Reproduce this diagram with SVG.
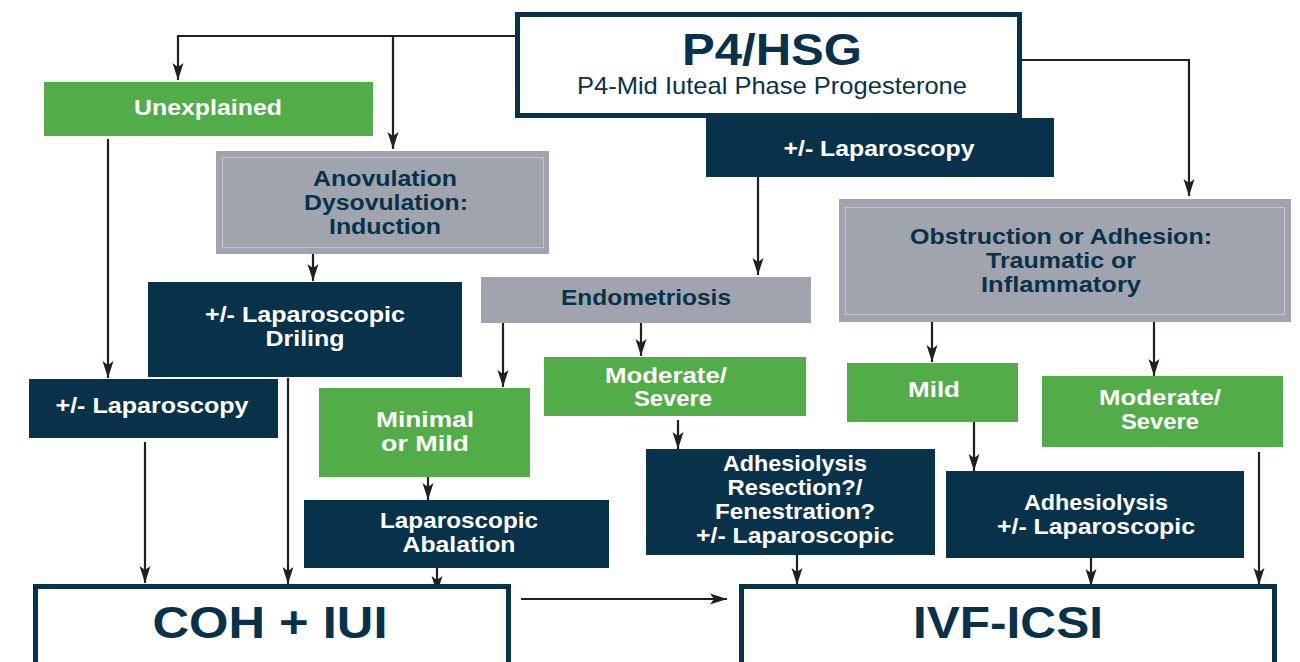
<svg xmlns="http://www.w3.org/2000/svg" width="1300" height="662" viewBox="0 0 1300 662">
<defs>
<style>
.bg{fill:#ffffff}
.navy{fill:#08324a}
.green{fill:#52ac47}
.gray{fill:#a0a4ae}
.inner{fill:none;stroke:#c3c6cd;stroke-width:1}
.frame{fill:#ffffff;stroke:#08324a;stroke-width:5}
text{font-family:"Liberation Sans",Arial,sans-serif;text-anchor:middle}
.tw{font-weight:bold;fill:#ffffff;font-size:22px}
.tn{font-weight:bold;fill:#08324a;font-size:22px}
.big{font-weight:bold;fill:#08324a;font-size:45px}
.sub{fill:#08324a;font-size:24px}
.con{fill:none;stroke:#231f20;stroke-width:2.2}
</style>
<marker id="ah" markerUnits="userSpaceOnUse" markerWidth="20" markerHeight="14" refX="17" refY="6" orient="auto" viewBox="0 0 20 12">
<path d="M0,0.5 L17,6 L0,11.5 L4,6 Z" fill="#231f20"/>
</marker>
</defs>
<rect class="bg" x="0" y="0" width="1300" height="662"/>

<g id="connectors">
<polyline class="con" points="515,36 178,36 178,80" marker-end="url(#ah)"/>
<polyline class="con" points="393,36 393,149" marker-end="url(#ah)"/>
<polyline class="con" points="1022,60 1189,60 1189,196" marker-end="url(#ah)"/>
<line class="con" x1="758" y1="177" x2="758" y2="275" marker-end="url(#ah)"/>
<line class="con" x1="108" y1="139" x2="108" y2="378" marker-end="url(#ah)"/>
<line class="con" x1="313" y1="250" x2="313" y2="281" marker-end="url(#ah)"/>
<line class="con" x1="288" y1="378" x2="288" y2="584" marker-end="url(#ah)"/>
<line class="con" x1="145" y1="442" x2="145" y2="583" marker-end="url(#ah)"/>
<line class="con" x1="503" y1="323" x2="503" y2="387" marker-end="url(#ah)"/>
<line class="con" x1="641" y1="323" x2="641" y2="356" marker-end="url(#ah)"/>
<line class="con" x1="428" y1="477" x2="428" y2="500" marker-end="url(#ah)"/>
<line class="con" x1="437" y1="568" x2="437" y2="593" marker-end="url(#ah)"/>
<line class="con" x1="678" y1="420" x2="678" y2="449" marker-end="url(#ah)"/>
<line class="con" x1="797" y1="555" x2="797" y2="585" marker-end="url(#ah)"/>
<line class="con" x1="932" y1="322" x2="932" y2="362" marker-end="url(#ah)"/>
<line class="con" x1="1154" y1="322" x2="1154" y2="376" marker-end="url(#ah)"/>
<line class="con" x1="974" y1="422" x2="974" y2="471" marker-end="url(#ah)"/>
<line class="con" x1="1091" y1="558" x2="1091" y2="586" marker-end="url(#ah)"/>
<line class="con" x1="1259" y1="452" x2="1259" y2="585" marker-end="url(#ah)"/>
<line class="con" x1="521" y1="599" x2="727" y2="599" marker-end="url(#ah)"/>
</g>

<g id="p4hsg">
<rect class="frame" x="517.5" y="14.5" width="502" height="101"/>
<text class="big" x="772" y="65" style="font-size:44px" textLength="180" lengthAdjust="spacingAndGlyphs">P4/HSG</text>
<text class="sub" x="772" y="94" textLength="390" lengthAdjust="spacingAndGlyphs">P4-Mid Iuteal Phase Progesterone</text>
</g>

<g id="laparoscopy-top">
<rect class="navy" x="706" y="118" width="348" height="59"/>
<text class="tw" x="879" y="156" textLength="191" lengthAdjust="spacingAndGlyphs">+/- Laparoscopy</text>
</g>

<g id="unexplained">
<rect class="green" x="44" y="82" width="329" height="54"/>
<text class="tw" x="208" y="115" textLength="148" lengthAdjust="spacingAndGlyphs">Unexplained</text>
</g>

<g id="anovulation">
<rect class="gray" x="216" y="151" width="333" height="103"/>
<rect class="inner" x="222.5" y="157.5" width="321" height="90"/>
<text class="tn" x="385" y="186" textLength="144" lengthAdjust="spacingAndGlyphs">Anovulation</text>
<text class="tn" x="386" y="210" textLength="164" lengthAdjust="spacingAndGlyphs">Dysovulation:</text>
<text class="tn" x="385" y="234" textLength="112" lengthAdjust="spacingAndGlyphs">Induction</text>
</g>

<g id="lap-driling">
<rect class="navy" x="148" y="282" width="314" height="95"/>
<text class="tw" x="305" y="322" textLength="200" lengthAdjust="spacingAndGlyphs">+/- Laparoscopic</text>
<text class="tw" x="305" y="346" textLength="79" lengthAdjust="spacingAndGlyphs">Driling</text>
</g>

<g id="laparoscopy-left">
<rect class="navy" x="29" y="379" width="249" height="59"/>
<text class="tw" x="152" y="413" textLength="193" lengthAdjust="spacingAndGlyphs">+/- Laparoscopy</text>
</g>

<g id="endometriosis">
<rect class="gray" x="481" y="277" width="330" height="46"/>
<text class="tn" x="646" y="305" textLength="170" lengthAdjust="spacingAndGlyphs">Endometriosis</text>
</g>

<g id="minimal-mild">
<rect class="green" x="319" y="388" width="211" height="89"/>
<text class="tw" x="425" y="427" textLength="98" lengthAdjust="spacingAndGlyphs">Minimal</text>
<text class="tw" x="425" y="451" textLength="88" lengthAdjust="spacingAndGlyphs">or Mild</text>
</g>

<g id="lap-abalation">
<rect class="navy" x="304" y="500" width="305" height="68"/>
<text class="tw" x="459" y="528" textLength="158" lengthAdjust="spacingAndGlyphs">Laparoscopic</text>
<text class="tw" x="459" y="552" textLength="113" lengthAdjust="spacingAndGlyphs">Abalation</text>
</g>

<g id="moderate-severe-endo">
<rect class="green" x="544" y="357" width="262" height="59"/>
<text class="tw" x="666" y="383" textLength="122" lengthAdjust="spacingAndGlyphs">Moderate/</text>
<text class="tw" x="673" y="406" textLength="78" lengthAdjust="spacingAndGlyphs">Severe</text>
</g>

<g id="adhesiolysis-resection">
<rect class="navy" x="646" y="449" width="289" height="106"/>
<text class="tw" x="795" y="471" textLength="144" lengthAdjust="spacingAndGlyphs">Adhesiolysis</text>
<text class="tw" x="795" y="495" textLength="135" lengthAdjust="spacingAndGlyphs">Resection?/</text>
<text class="tw" x="795" y="519" textLength="160" lengthAdjust="spacingAndGlyphs">Fenestration?</text>
<text class="tw" x="795" y="543" textLength="198" lengthAdjust="spacingAndGlyphs">+/- Laparoscopic</text>
</g>

<g id="obstruction">
<rect class="gray" x="839" y="199" width="452" height="123"/>
<rect class="inner" x="845.5" y="207.5" width="439" height="107"/>
<text class="tn" x="1061" y="244" textLength="302" lengthAdjust="spacingAndGlyphs">Obstruction or Adhesion:</text>
<text class="tn" x="1061" y="268" textLength="150" lengthAdjust="spacingAndGlyphs">Traumatic or</text>
<text class="tn" x="1061" y="292" textLength="160" lengthAdjust="spacingAndGlyphs">Inflammatory</text>
</g>

<g id="mild">
<rect class="green" x="847" y="363" width="171" height="59"/>
<text class="tw" x="934" y="397" textLength="52" lengthAdjust="spacingAndGlyphs">Mild</text>
</g>

<g id="moderate-severe-obs">
<rect class="green" x="1042" y="376" width="241" height="71"/>
<text class="tw" x="1160" y="405" textLength="122" lengthAdjust="spacingAndGlyphs">Moderate/</text>
<text class="tw" x="1160" y="429" textLength="78" lengthAdjust="spacingAndGlyphs">Severe</text>
</g>

<g id="adhesiolysis-lap">
<rect class="navy" x="946" y="471" width="298" height="87"/>
<text class="tw" x="1096" y="510" textLength="144" lengthAdjust="spacingAndGlyphs">Adhesiolysis</text>
<text class="tw" x="1096" y="534" textLength="198" lengthAdjust="spacingAndGlyphs">+/- Laparoscopic</text>
</g>

<g id="coh-iui">
<rect class="frame" x="35.5" y="586.5" width="473" height="90"/>
<text class="big" x="270" y="638" textLength="235" lengthAdjust="spacingAndGlyphs">COH + IUI</text>
</g>

<g id="ivf-icsi">
<rect class="frame" x="741.5" y="586.5" width="533" height="90"/>
<text class="big" x="1008" y="638" textLength="190" lengthAdjust="spacingAndGlyphs">IVF-ICSI</text>
</g>
</svg>
